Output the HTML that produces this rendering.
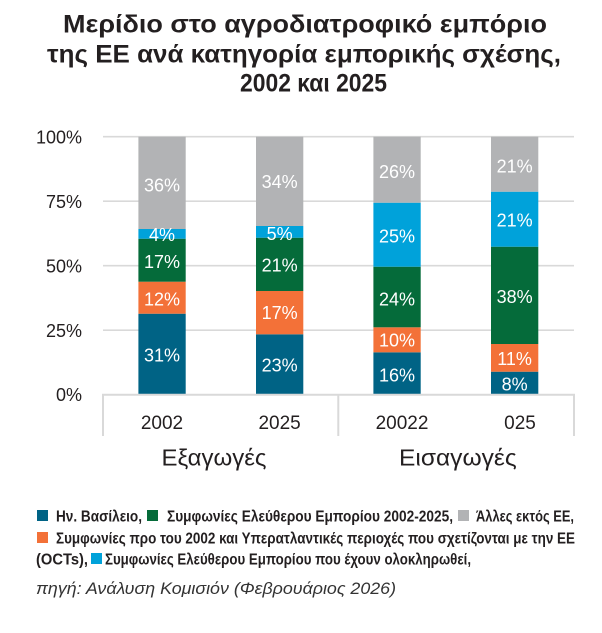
<!DOCTYPE html>
<html>
<head>
<meta charset="utf-8">
<style>
  html,body{margin:0;padding:0;background:#fff;}
  svg{display:block;}
  text{font-family:"Liberation Sans", "Noto Sans CJK SC", sans-serif;}
</style>
</head>
<body>
<svg width="602" height="633" viewBox="0 0 602 633" xmlns="http://www.w3.org/2000/svg">
  <rect x="0" y="0" width="602" height="633" fill="#ffffff"/>

  <!-- Title -->
  <g fill="#231F20" font-weight="bold" font-size="25">
    <text x="63" y="32.5" textLength="484" lengthAdjust="spacingAndGlyphs">Μερίδιο στο αγροδιατροφικό εμπόριο</text>
    <text x="47" y="62.5" textLength="514" lengthAdjust="spacingAndGlyphs">της ΕΕ ανά κατηγορία εμπορικής σχέσης,</text>
    <text x="240" y="91.5" textLength="147" lengthAdjust="spacingAndGlyphs">2002 και 2025</text>
  </g>

  <!-- Gridlines -->
  <g stroke="#D9D9D9" stroke-width="1.6">
    <line x1="103" y1="136.7" x2="574" y2="136.7"/>
    <line x1="103" y1="201.2" x2="574" y2="201.2"/>
    <line x1="103" y1="265.7" x2="574" y2="265.7"/>
    <line x1="103" y1="330.2" x2="574" y2="330.2"/>
  </g>

  <!-- Y axis labels -->
  <g fill="#231F20" font-size="18" text-anchor="end">
    <text x="82" y="143.5">100%</text>
    <text x="82" y="208">75%</text>
    <text x="82" y="272.5">50%</text>
    <text x="82" y="337">25%</text>
    <text x="82" y="401">0%</text>
  </g>

  <!-- Bars -->
  <rect x="138.4" y="313.7" width="47.3" height="80.8" fill="#006385"/>
  <rect x="138.4" y="281.7" width="47.3" height="32" fill="#F37138"/>
  <rect x="138.4" y="238.7" width="47.3" height="43" fill="#056B3A"/>
  <rect x="138.4" y="229" width="47.3" height="9.7" fill="#00A2DA"/>
  <rect x="138.4" y="136.7" width="47.3" height="92.3" fill="#B2B3B5"/>

  <rect x="256" y="334.3" width="47.3" height="60.2" fill="#006385"/>
  <rect x="256" y="291" width="47.3" height="43.3" fill="#F37138"/>
  <rect x="256" y="237.7" width="47.3" height="53.3" fill="#056B3A"/>
  <rect x="256" y="226" width="47.3" height="11.7" fill="#00A2DA"/>
  <rect x="256" y="136.7" width="47.3" height="89.3" fill="#B2B3B5"/>

  <rect x="373.4" y="352.3" width="47.3" height="42.2" fill="#006385"/>
  <rect x="373.4" y="327.3" width="47.3" height="25" fill="#F37138"/>
  <rect x="373.4" y="266.7" width="47.3" height="60.6" fill="#056B3A"/>
  <rect x="373.4" y="202.7" width="47.3" height="64" fill="#00A2DA"/>
  <rect x="373.4" y="136.7" width="47.3" height="66" fill="#B2B3B5"/>

  <rect x="491" y="371.7" width="47.3" height="22.8" fill="#006385"/>
  <rect x="491" y="344" width="47.3" height="27.7" fill="#F37138"/>
  <rect x="491" y="246.7" width="47.3" height="97.3" fill="#056B3A"/>
  <rect x="491" y="191.7" width="47.3" height="55" fill="#00A2DA"/>
  <rect x="491" y="136.7" width="47.3" height="55" fill="#B2B3B5"/>

  <!-- Data labels -->
  <g fill="#ffffff" font-size="18" text-anchor="middle">
    <text x="162" y="191.5">36%</text>
    <text x="162" y="240.8">4%</text>
    <text x="162" y="268.2">17%</text>
    <text x="162" y="305.5">12%</text>
    <text x="162" y="361.5">31%</text>

    <text x="279.6" y="188.2">34%</text>
    <text x="279.6" y="239.8">5%</text>
    <text x="279.6" y="271.5">21%</text>
    <text x="279.6" y="319.2">17%</text>
    <text x="279.6" y="371.5">23%</text>

    <text x="397" y="178.2">26%</text>
    <text x="397" y="242.5">25%</text>
    <text x="397" y="305.5">24%</text>
    <text x="397" y="346.5">10%</text>
    <text x="397" y="381.5">16%</text>

    <text x="514.6" y="172.5">21%</text>
    <text x="514.6" y="226.5">21%</text>
    <text x="514.6" y="303.2">38%</text>
    <text x="514.6" y="364.8">11%</text>
    <text x="514.6" y="390.5">8%</text>
  </g>

  <!-- Category axis -->
  <g stroke="#D9D9D9" stroke-width="2">
    <line x1="102" y1="394.8" x2="575" y2="394.8"/>
    <line x1="103" y1="394" x2="103" y2="436"/>
    <line x1="338.3" y1="394" x2="338.3" y2="436"/>
    <line x1="574" y1="394" x2="574" y2="436"/>
  </g>

  <g fill="#231F20" font-size="19" text-anchor="middle">
    <text x="162" y="429">2002</text>
    <text x="279.6" y="429">2025</text>
    <text x="402" y="429">20022</text>
    <text x="520" y="429">025</text>
  </g>

  <g fill="#231F20" font-size="23">
    <text x="161.5" y="465.5" textLength="105" lengthAdjust="spacingAndGlyphs">Εξαγωγές</text>
    <text x="399" y="465.5" textLength="117.7" lengthAdjust="spacingAndGlyphs">Εισαγωγές</text>
  </g>

  <!-- Legend -->
  <rect x="37" y="510" width="11" height="11" fill="#006385"/>
  <rect x="147" y="510" width="11" height="11" fill="#056B3A"/>
  <rect x="458" y="510" width="11" height="11" fill="#B2B3B5"/>
  <rect x="37" y="532" width="11" height="11" fill="#F37138"/>
  <rect x="91" y="553" width="11" height="11" fill="#00A2DA"/>

  <g fill="#231F20" font-size="16" font-weight="bold">
    <text x="56" y="521.5" textLength="86" lengthAdjust="spacingAndGlyphs">Ην. Βασίλειο,</text>
    <text x="167" y="521.5" textLength="286" lengthAdjust="spacingAndGlyphs">Συμφωνίες Ελεύθερου Εμπορίου 2002-2025,</text>
    <text x="476" y="521.5" textLength="98" lengthAdjust="spacingAndGlyphs">Άλλες εκτός ΕΕ,</text>
    <text x="56" y="543.5" textLength="519" lengthAdjust="spacingAndGlyphs">Συμφωνίες προ του 2002 και Υπερατλαντικές περιοχές που σχετίζονται με την ΕΕ</text>
    <text x="36" y="564.5" textLength="52" lengthAdjust="spacingAndGlyphs">(OCTs),</text>
    <text x="105" y="564.5" textLength="366" lengthAdjust="spacingAndGlyphs">Συμφωνίες Ελεύθερου Εμπορίου που έχουν ολοκληρωθεί,</text>
  </g>

  <!-- Source -->
  <text x="36" y="594" fill="#333333" font-size="17" font-style="italic" textLength="360" lengthAdjust="spacingAndGlyphs">πηγή: Ανάλυση Κομισιόν (Φεβρουάριος 2026)</text>
</svg>
</body>
</html>
